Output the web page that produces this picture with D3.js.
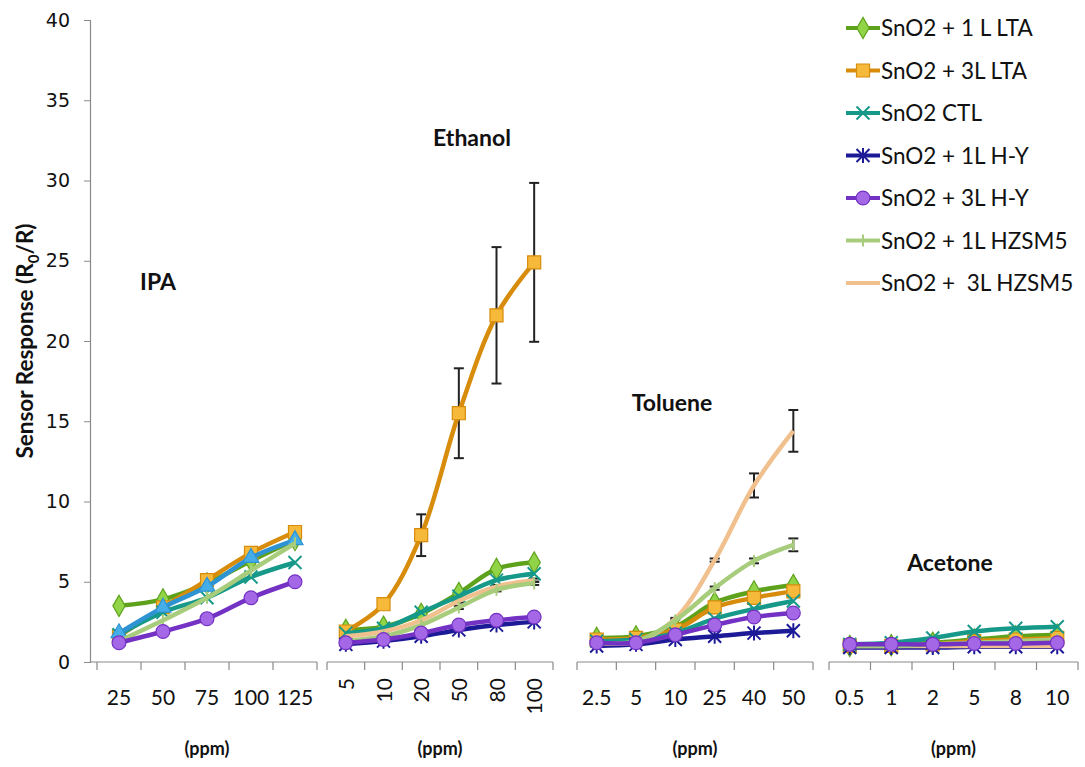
<!DOCTYPE html>
<html>
<head>
<meta charset="utf-8">
<script src="https://cdn.jsdelivr.net/npm/d3@7"></script>
<style>
  body { margin: 0; background: #fff; }
  svg { display: block; }
</style>
</head>
<body>
<div id="chart"></div>
<script>
// series names (legend order), the last one only shows up in IPA
const seriesNames = ["SnO2 + 1 L LTA", "SnO2 + 3L LTA", "SnO2 CTL", "SnO2 + 1L H-Y",
  "SnO2 + 3L H-Y", "SnO2 + 1L HZSM5", "SnO2 +  3L HZSM5", "SnO2 (IPA)"];
const seriesColors = ["#5ea21c", "#d88c0c", "#17998a", "#1c1a96", "#7432c4", "#a7cd7c", "#f0c08e", "#2e93d3"];
const markerFills = ["#92d447", "#f6b93a", "#17998a", "#1c1a96", "#a468e6", "#a7cd7c", "#f0c08e", "#45aee8"];
const markerTypes = ["diamond", "square", "x", "star", "circle", "plus", "none", "triangle"];

// panels
const gases = ["IPA", "Ethanol", "Toluene", "Acetone"];
const ipaConc = ["25", "50", "75", "100", "125"];
const ethanolConc = ["5", "10", "20", "50", "80", "100"];
const tolueneConc = ["2.5", "5", "10", "25", "40", "50"];
const acetoneConc = ["0.5", "1", "2", "5", "8", "10"];

// values per series (null = not measured / not drawn)
const ipaValues = [
  [3.5, 3.9, 4.9, 6.3, 7.6],
  [1.6, 3.4, 5.1, 6.8, 8.1],
  [1.7, 3.1, 4.0, 5.3, 6.2],
  null,
  [1.2, 1.9, 2.7, 4.0, 5.0],
  [1.3, 2.6, 4.0, 5.7, 7.4],
  null,
  [1.8, 3.4, 4.7, 6.5, 7.6]
];
const ethanolValues = [
  [2.0, 2.2, 3.0, 4.3, 5.8, 6.2],
  [1.9, 3.6, 7.9, 15.5, 21.6, 24.9],
  [1.8, 2.1, 3.1, 4.1, 5.1, 5.5],
  [1.1, 1.3, 1.6, 2.0, 2.3, 2.5],
  [1.2, 1.4, 1.8, 2.3, 2.6, 2.8],
  [1.3, 1.6, 2.3, 3.4, 4.5, 4.9],
  [1.6, 1.9, 2.6, 3.8, 4.7, 5.1],
  null
];
const tolueneValues = [
  [1.5, 1.6, 2.2, 3.7, 4.4, 4.8],
  [1.4, 1.5, 2.0, 3.4, 4.0, 4.4],
  [1.3, 1.4, 1.8, 2.7, 3.3, 3.8],
  [1.0, 1.1, 1.4, 1.6, 1.8, 1.95],
  [1.2, 1.2, 1.7, 2.3, 2.8, 3.05],
  [1.2, 1.3, 2.6, 4.6, 6.3, 7.3],
  [1.2, 1.25, 2.7, 6.35, 11.0, 14.4],
  null
];
const acetoneValues = [
  [1.0, 1.05, 1.2, 1.4, 1.6, 1.7],
  [1.0, 1.0, 1.1, 1.3, 1.4, 1.5],
  [1.1, 1.2, 1.5, 1.9, 2.1, 2.2],
  [0.9, 0.9, 0.9, 0.95, 0.95, 0.95],
  [1.1, 1.1, 1.1, 1.15, 1.15, 1.2],
  [1.0, 1.0, 1.1, 1.2, 1.3, 1.4],
  [1.0, 1.0, 1.0, 1.0, 1.0, 1.0],
  null
];

// error bars (half-widths), only where they show
const ethanolErr3LLTA = [0, 0, 1.3, 2.8, 4.25, 4.95];
const ethanolErrSmall = [0, 0, 0, 0.1, 0.1, 0.1];
const tolueneErr3LHZSM5 = [0, 0, 0.05, 0.1, 0.75, 1.3];
const tolueneErr1LHZSM5 = [0, 0, 0, 0.1, 0.15, 0.4];

const yTicks = [0, 5, 10, 15, 20, 25, 30, 35, 40];

const panelData = [
  { name: gases[0], conc: ipaConc, values: ipaValues, range: [97, 317], title: [158, 282], errs: [] },
  { name: gases[1], conc: ethanolConc, values: ethanolValues, range: [327, 553], title: [472, 138], rotate: true,
    errs: [{ s: 1, e: ethanolErr3LLTA }, { s: 6, e: ethanolErrSmall }, { s: 5, e: ethanolErrSmall }] },
  { name: gases[2], conc: tolueneConc, values: tolueneValues, range: [577, 813], title: [672, 403],
    errs: [{ s: 6, e: tolueneErr3LHZSM5 }, { s: 5, e: tolueneErr1LHZSM5 }] },
  { name: gases[3], conc: acetoneConc, values: acetoneValues, range: [829, 1078], title: [950, 563], errs: [] }
];

const W = 1085, H = 767;
const svg = d3.select("#chart").append("svg").attr("width", W).attr("height", H);

const y = d3.scaleLinear().domain([0, 40]).range([662, 20]);
const axisGray = "#8a8a8a";

// y axis
const yAxis = svg.append("g").attr("transform", "translate(90,0)")
  .call(d3.axisLeft(y).tickValues(yTicks).tickSize(6).tickPadding(14));
yAxis.select(".domain").attr("stroke", axisGray).attr("stroke-width", 1.2);
yAxis.selectAll(".tick line").attr("stroke", axisGray);
yAxis.selectAll(".tick text").attr("font-family", "DejaVu Sans").attr("font-size", 19).attr("fill", "#111");

svg.append("text")
  .attr("transform", "translate(33,341) rotate(-90)")
  .attr("text-anchor", "middle")
  .attr("font-family", "Lato").attr("font-weight", "bold").attr("font-size", 22.5).attr("fill", "#111")
  .call(t => {
    t.append("tspan").text("Sensor Response (R");
    t.append("tspan").attr("font-size", 15).attr("dy", 6).text("0");
    t.append("tspan").attr("dy", -6).text("/R)");
  });

function drawMarker(g, type, cx, cy, stroke, fill) {
  if (type === "none") return;
  if (type === "x" || type === "star") {
    const r = 6.5;
    const p = d3.path();
    p.moveTo(cx - r, cy - r); p.lineTo(cx + r, cy + r);
    p.moveTo(cx - r, cy + r); p.lineTo(cx + r, cy - r);
    if (type === "star") { p.moveTo(cx, cy - r - 1); p.lineTo(cx, cy + r + 1); }
    g.append("path").attr("d", p.toString()).attr("stroke", stroke).attr("stroke-width", 2).attr("fill", "none");
    return;
  }
  if (type === "plus") {
    g.append("line").attr("x1", cx).attr("x2", cx).attr("y1", cy - 6).attr("y2", cy + 6)
      .attr("stroke", stroke).attr("stroke-width", 2);
    return;
  }
  const sym = { diamond: d3.symbolDiamond, square: d3.symbolSquare, circle: d3.symbolCircle, triangle: d3.symbolTriangle }[type];
  const size = { diamond: 130, square: 170, circle: 150, triangle: 110 }[type];
  g.append("path").attr("d", d3.symbol(sym, size)())
    .attr("transform", `translate(${cx},${cy})`)
    .attr("fill", fill).attr("stroke", stroke).attr("stroke-width", 1.2);
}

// draw order so the overlaps look like the original
const drawOrder = [0, 1, 2, 7, 3, 6, 5, 4];

panelData.forEach(p => {
  const x = d3.scalePoint().domain(p.conc).range(p.range).padding(0.5);
  const step = (p.range[1] - p.range[0]) / p.conc.length;
  const g = svg.append("g");

  // x axis
  const xa = g.append("g").attr("transform", "translate(0,662)");
  xa.append("line").attr("x1", p.name === "IPA" ? 90 : p.range[0]).attr("x2", p.range[1])
    .attr("stroke", axisGray).attr("stroke-width", 1.2);
  d3.range(p.conc.length + 1).forEach(i => {
    const tx = p.range[0] + i * step;
    xa.append("line").attr("x1", tx).attr("x2", tx).attr("y1", 0).attr("y2", 8)
      .attr("stroke", axisGray).attr("stroke-width", 1.2);
  });
  p.conc.forEach(c => {
    const t = xa.append("text").text(c)
      .attr("font-family", "Liberation Sans Narrow, Lato").attr("font-size", 21).attr("fill", "#111");
    if (p.rotate) {
      t.attr("transform", `translate(${x(c) + 8},${16}) rotate(-90)`).attr("text-anchor", "end");
    } else {
      t.attr("x", x(c)).attr("y", 43).attr("text-anchor", "middle");
    }
  });
  xa.append("text").text("(ppm)")
    .attr("x", (p.range[0] + p.range[1]) / 2).attr("y", 93)
    .attr("text-anchor", "middle").attr("font-family", "Lato").attr("font-weight", "bold")
    .attr("font-size", 18).attr("fill", "#111");

  // title
  g.append("text").text(p.name).attr("x", p.title[0]).attr("y", p.title[1] + 8)
    .attr("text-anchor", "middle").attr("font-family", "Lato").attr("font-weight", "bold")
    .attr("font-size", 23).attr("fill", "#111");

  // error bars
  p.errs.forEach(eb => {
    const vals = p.values[eb.s];
    vals.forEach((v, i) => {
      const e = eb.e[i];
      if (!e) return;
      const cx = x(p.conc[i]);
      g.append("line").attr("x1", cx).attr("x2", cx).attr("y1", y(v - e)).attr("y2", y(v + e))
        .attr("stroke", "#222").attr("stroke-width", 2);
      [v - e, v + e].forEach(ev => {
        g.append("line").attr("x1", cx - 5).attr("x2", cx + 5).attr("y1", y(ev)).attr("y2", y(ev))
          .attr("stroke", "#222").attr("stroke-width", 2);
      });
    });
  });

  const line = d3.line().x((d, i) => x(p.conc[i])).y(d => y(d)).curve(d3.curveCatmullRom.alpha(0.5));
  drawOrder.forEach(s => {
    const vals = p.values[s];
    if (!vals) return;
    g.append("path").datum(vals).attr("d", line)
      .attr("fill", "none").attr("stroke", seriesColors[s]).attr("stroke-width", 4.5)
      .attr("stroke-linejoin", "round");
    const mg = g.append("g");
    vals.forEach((v, i) => drawMarker(mg, markerTypes[s], x(p.conc[i]), y(v), seriesColors[s], markerFills[s]));
  });
});

// legend
const legend = svg.append("g");
seriesNames.slice(0, 7).forEach((name, i) => {
  const ly = 28 + i * 42.5;
  const lg = legend.append("g");
  lg.append("line").attr("x1", 846).attr("x2", 880).attr("y1", ly).attr("y2", ly)
    .attr("stroke", seriesColors[i]).attr("stroke-width", 4);
  drawMarker(lg, markerTypes[i], 863, ly, seriesColors[i], markerFills[i]);
  lg.append("text").text(name).attr("x", 881).attr("y", ly + 8)
    .attr("font-family", "Lato").attr("font-size", 22.5).attr("fill", "#111")
    .style("white-space", "pre");
});
</script>
</body>
</html>
